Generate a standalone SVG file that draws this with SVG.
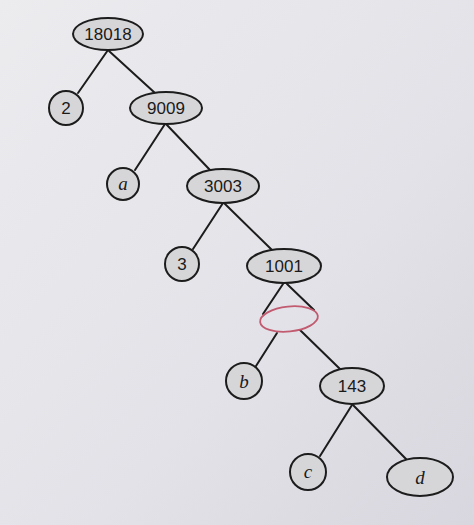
<svg xmlns="http://www.w3.org/2000/svg" width="474" height="525" viewBox="0 0 474 525">
<defs>
<linearGradient id="bg" x1="0" y1="0" x2="1" y2="1">
<stop offset="0" stop-color="#ececef"/>
<stop offset="0.6" stop-color="#e2e2e8"/>
<stop offset="1" stop-color="#d8d6de"/>
</linearGradient>
<style>
.n{fill:#d6d6d9;stroke:#1c1c1c;stroke-width:2}
.e line{stroke:#1c1c1c;stroke-width:2;stroke-linecap:round}
.num{font-family:"Liberation Sans",Arial,sans-serif;font-size:17px;fill:#1a1a1a;text-anchor:middle;dominant-baseline:central}
.var{font-family:"Liberation Serif","Times New Roman",serif;font-style:italic;font-size:19px;fill:#1a1a1a;text-anchor:middle;dominant-baseline:central}
</style>
</defs>
<rect width="474" height="525" fill="url(#bg)"/>
<g id="edges" class="e">
<line x1="108" y1="50" x2="78" y2="93"/>
<line x1="109" y1="51" x2="155" y2="93"/>
<line x1="165" y1="124" x2="135" y2="170"/>
<line x1="166" y1="124" x2="210" y2="170"/>
<line x1="223" y1="203" x2="193" y2="249"/>
<line x1="224" y1="203" x2="272" y2="250"/>
<line x1="283" y1="284" x2="263" y2="314"/>
<line x1="287" y1="284" x2="314" y2="310"/>
<line x1="277" y1="333" x2="256" y2="366"/>
<line x1="300" y1="330" x2="340" y2="369"/>
<line x1="352" y1="405" x2="320" y2="456"/>
<line x1="353" y1="405" x2="407" y2="460"/>
</g>
<g id="n18018"><ellipse class="n" cx="108" cy="34" rx="35" ry="16"/><text class="num" x="108" y="34">18018</text></g>
<g id="n2"><circle class="n" cx="66" cy="108" r="17"/><text class="num" x="66" y="108">2</text></g>
<g id="n9009"><ellipse class="n" cx="166" cy="108" rx="36" ry="16"/><text class="num" x="166" y="108">9009</text></g>
<g id="na"><circle class="n" cx="123" cy="184" r="16"/><text class="var" x="123" y="183">a</text></g>
<g id="n3003"><ellipse class="n" cx="223" cy="186" rx="36" ry="17"/><text class="num" x="223" y="186">3003</text></g>
<g id="n3"><circle class="n" cx="182" cy="264" r="17"/><text class="num" x="182" y="264">3</text></g>
<g id="n1001"><ellipse class="n" cx="284" cy="266" rx="37" ry="17"/><text class="num" x="284" y="266">1001</text></g>
<g id="mark"><ellipse cx="289" cy="319" rx="29" ry="12.5" transform="rotate(-6 289 319)" fill="none" stroke="#c25a70" stroke-width="1.8"/></g>
<g id="nb"><circle class="n" cx="244" cy="381" r="18"/><text class="var" x="244" y="381">b</text></g>
<g id="n143"><ellipse class="n" cx="352" cy="386" rx="32" ry="18"/><text class="num" x="352" y="386">143</text></g>
<g id="nc"><circle class="n" cx="308" cy="472" r="18"/><text class="var" x="308" y="471">c</text></g>
<g id="nd"><ellipse class="n" cx="420" cy="477" rx="33" ry="19"/><text class="var" x="420" y="477">d</text></g>
</svg>
